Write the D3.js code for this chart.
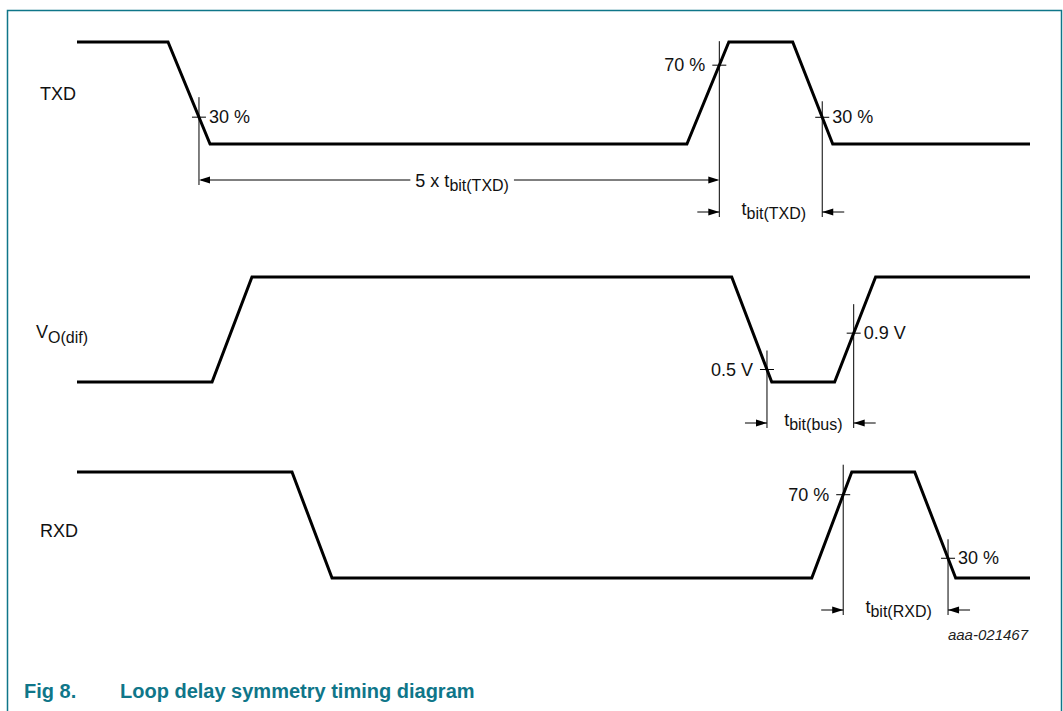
<!DOCTYPE html>
<html>
<head>
<meta charset="utf-8">
<title>Loop delay symmetry timing diagram</title>
<script src="https://d3js.org/d3.v7.min.js"></script>
<style>
  body { margin: 0; background: #fff; }
  text { font-family: "Liberation Sans", Arial, sans-serif; fill: #111; }
</style>
</head>
<body>
<script>
// time axis in arbitrary units (0..100)
var txdT   = [0, 9.55, 13.96, 64.0, 68.4, 75.1, 79.3, 100];
var txdLvl = [1, 1, 0, 0, 1, 1, 0, 0];
var vodT   = [0, 14.17, 18.36, 68.7, 72.9, 79.5, 83.8, 100];
var vodLvl = [0, 0, 1, 1, 0, 0, 1, 1];
var rxdT   = [0, 22.56, 26.76, 77.1, 81.3, 87.9, 92.2, 100];
var rxdLvl = [1, 1, 0, 0, 1, 1, 0, 0];

// threshold crossings
var txdMarks  = [12.8, 67.4, 78.2];
var txdLabels = ["30 %", "70 %", "30 %"];
var vodMarks  = [72.4, 81.5];
var vodLabels = ["0.5 V", "0.9 V"];
var rxdMarks  = [80.4, 91.4];
var rxdLabels = ["70 %", "30 %"];

var signalNames = [["TXD", ""], ["V", "O(dif)"], ["RXD", ""]];

// measured intervals: [signal, from mark, to mark, main text, subscript]
var intervals = [
  [0, 0, 1, "5 x t", "bit(TXD)"],
  [0, 1, 2, "t", "bit(TXD)"],
  [1, 0, 1, "t", "bit(bus)"],
  [2, 0, 1, "t", "bit(RXD)"]
];

var W = 1063, H = 711;
var teal = "#0f7689";

var svg = d3.select("body").append("svg")
  .attr("width", W).attr("height", H);

// frame
svg.append("path")
  .attr("d", "M7.5," + H + "V10.5H1061.5V" + H)
  .attr("fill", "none").attr("stroke", teal).attr("stroke-width", 1.5);

var x = d3.scaleLinear().domain([0, 100]).range([77, 1030]);

// per-row layout (pixel levels for low / high)
var rows = [
  {low: 144, high: 42, labelY: 100, lead: [20, 24, 16], side: [1, -1, 1], dimDy: [36, 68]},
  {low: 382, high: 277, labelY: 338, lead: [19, 29], side: [-1, 1], dimDy: [41]},
  {low: 578, high: 472, labelY: 537, lead: [30, 19], side: [-1, 1], dimDy: [32]}
];
var sigT = [txdT, vodT, rxdT];
var sigL = [txdLvl, vodLvl, rxdLvl];
var sigM = [txdMarks, vodMarks, rxdMarks];
var sigML = [txdLabels, vodLabels, rxdLabels];

rows.forEach(function(r, i) {
  r.y = d3.scaleLinear().domain([0, 1]).range([r.low, r.high]);
  r.level = d3.scaleLinear().domain(sigT[i]).range(sigL[i]);
});

// waveforms
var line = d3.line();
rows.forEach(function(r, i) {
  var pts = sigT[i].map(function(t, k) { return [x(t), r.y(sigL[i][k])]; });
  svg.append("path")
    .attr("d", line(pts))
    .attr("fill", "none")
    .attr("stroke", "#000")
    .attr("stroke-width", 3)
    .attr("stroke-linejoin", "miter");

  // signal name
  var lab = svg.append("text")
    .attr("x", i == 1 ? 36 : 40).attr("y", r.labelY)
    .attr("font-size", 18);
  lab.append("tspan").text(signalNames[i][0]);
  if (signalNames[i][1]) {
    lab.append("tspan").attr("font-size", 16).attr("dy", 5).text(signalNames[i][1]);
  }
});

// arrowhead helper: tip at (tx,ty), pointing dir (+1 right, -1 left)
function arrowHead(g, tx, ty, dir) {
  g.append("path")
    .attr("d", "M" + tx + "," + ty + "L" + (tx - dir * 11) + "," + (ty - 3.5) +
               "L" + (tx - dir * 11) + "," + (ty + 3.5) + "Z")
    .attr("fill", "#000");
}

// compute mark bottom: lowest interval arrow touching the mark + 5
rows.forEach(function(r, i) {
  var marks = sigM[i];
  marks.forEach(function(m, k) {
    var px = x(m), py = r.y(r.level(m));
    var bottom = py;
    var di = 0;
    intervals.forEach(function(iv) {
      if (iv[0] !== i) return;
      var dy = r.dimDy[di++];
      if (iv[1] === k || iv[2] === k) bottom = Math.max(bottom, r.low + dy + 5);
    });
    svg.append("line")
      .attr("x1", px).attr("x2", px)
      .attr("y1", py - r.lead[k]).attr("y2", bottom)
      .attr("stroke", "#000").attr("stroke-width", 1);
    svg.append("line")
      .attr("x1", px - 7).attr("x2", px + 7)
      .attr("y1", py).attr("y2", py)
      .attr("stroke", "#000").attr("stroke-width", 1);
    var s = r.side[k];
    svg.append("text")
      .attr("x", s > 0 ? px + 10 : px - 14)
      .attr("y", py + 6)
      .attr("font-size", 18)
      .attr("text-anchor", s > 0 ? "start" : "end")
      .text(sigML[i][k]);
  });
});

// interval dimensions
var counters = [0, 0, 0];
intervals.forEach(function(iv) {
  var i = iv[0], r = rows[i];
  var dy = r.dimDy[counters[i]++];
  var ay = r.low + dy;
  var x1 = x(sigM[i][iv[1]]), x2 = x(sigM[i][iv[2]]);
  var g = svg.append("g");
  var cx = (x1 + x2) / 2 + 3;
  var inside = (x2 - x1) > 200;

  var t = g.append("text")
    .attr("x", cx).attr("y", inside ? ay + 7 : ay + 3)
    .attr("font-size", 18).attr("text-anchor", "middle");
  t.append("tspan").text(iv[3]);
  t.append("tspan").attr("font-size", 16).attr("dy", 4).text(iv[4]);
  var bb = t.node().getBBox();

  if (inside) {
    g.append("line").attr("x1", x1 + 2).attr("x2", bb.x - 5)
      .attr("y1", ay).attr("y2", ay).attr("stroke", "#000");
    g.append("line").attr("x1", bb.x + bb.width + 5).attr("x2", x2 - 2)
      .attr("y1", ay).attr("y2", ay).attr("stroke", "#000");
    arrowHead(g, x1, ay, -1);
    arrowHead(g, x2, ay, 1);
  } else {
    g.append("line").attr("x1", x1 - 22).attr("x2", x1)
      .attr("y1", ay).attr("y2", ay).attr("stroke", "#000");
    g.append("line").attr("x1", x2).attr("x2", x2 + 22)
      .attr("y1", ay).attr("y2", ay).attr("stroke", "#000");
    arrowHead(g, x1, ay, 1);
    arrowHead(g, x2, ay, -1);
  }
});

// drawing id
svg.append("text")
  .attr("x", 1028).attr("y", 640)
  .attr("font-size", 15).attr("font-style", "italic")
  .attr("text-anchor", "end").style("fill", "#222")
  .text("aaa-021467");

// caption
var cap = svg.append("g").attr("font-weight", "bold");
cap.append("text").attr("x", 24).attr("y", 698).attr("font-size", 20)
  .style("fill", teal).text("Fig 8.");
cap.append("text").attr("x", 120).attr("y", 698).attr("font-size", 20)
  .style("fill", teal).text("Loop delay symmetry timing diagram");
</script>
</body>
</html>
